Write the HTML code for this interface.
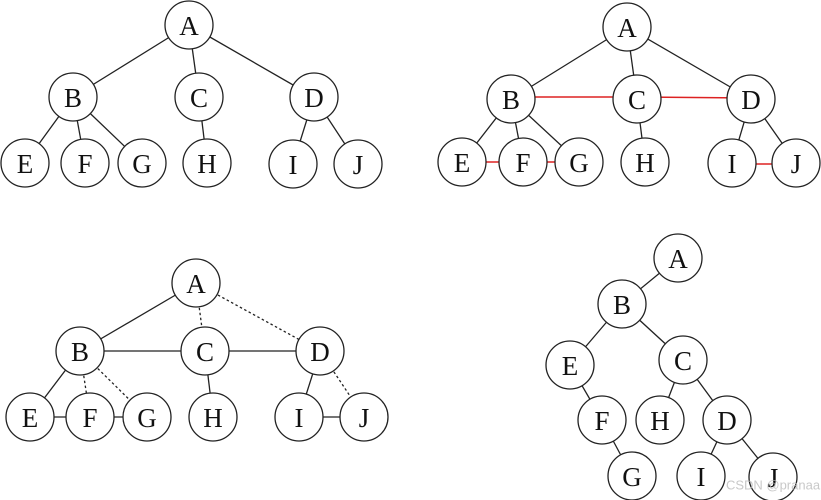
<!DOCTYPE html>
<html><head><meta charset="utf-8"><style>
html,body{margin:0;padding:0;background:#fff;}
svg{display:block}
text{font-family:"Liberation Serif",serif;font-size:27px;fill:#111;text-anchor:middle;dominant-baseline:central}
circle{fill:#fff;stroke:#222;stroke-width:1.3}
line{stroke:#222;stroke-width:1.3}
.r{stroke:#d22;stroke-width:1.5}
.d{stroke-dasharray:2.5 2.5}
</style></head><body>
<svg width="821" height="500" viewBox="0 0 821 500">
<!-- Tree 1 -->
<g>
<line x1="189" y1="25" x2="73" y2="97"/><line x1="189" y1="25" x2="199" y2="97"/><line x1="189" y1="25" x2="314" y2="97"/>
<line x1="73" y1="97" x2="25" y2="163"/><line x1="73" y1="97" x2="85" y2="163"/><line x1="73" y1="97" x2="142" y2="163"/>
<line x1="199" y1="97" x2="207" y2="163"/><line x1="314" y1="97" x2="293" y2="164"/><line x1="314" y1="97" x2="358" y2="164"/>
<circle cx="189" cy="25" r="24"/><text x="189" y="26">A</text>
<circle cx="73" cy="97" r="24"/><text x="73" y="98">B</text>
<circle cx="199" cy="97" r="24"/><text x="199" y="98">C</text>
<circle cx="314" cy="97" r="24"/><text x="314" y="98">D</text>
<circle cx="25" cy="163" r="24"/><text x="25" y="164">E</text>
<circle cx="85" cy="163" r="24"/><text x="85" y="164">F</text>
<circle cx="142" cy="163" r="24"/><text x="142" y="164">G</text>
<circle cx="207" cy="163" r="24"/><text x="207" y="164">H</text>
<circle cx="293" cy="164" r="24"/><text x="293" y="165">I</text>
<circle cx="358" cy="164" r="24"/><text x="358" y="165">J</text>
</g>
<!-- Tree 2 -->
<g>
<line x1="627" y1="27" x2="511" y2="99"/><line x1="627" y1="27" x2="637" y2="99"/><line x1="627" y1="27" x2="751" y2="99"/>
<line x1="511" y1="99" x2="462" y2="162"/><line x1="511" y1="99" x2="523" y2="162"/><line x1="511" y1="99" x2="579" y2="162"/>
<line x1="637" y1="99" x2="645" y2="162"/><line x1="751" y1="99" x2="732" y2="163"/><line x1="751" y1="99" x2="796" y2="163"/>
<line class="r" x1="511" y1="97" x2="637" y2="97"/><line class="r" x1="637" y1="97" x2="751" y2="98"/>
<line class="r" x1="462" y1="162" x2="523" y2="162"/><line class="r" x1="523" y1="162" x2="579" y2="162"/><line class="r" x1="732" y1="164" x2="796" y2="164"/>
<circle cx="627" cy="27" r="24"/><text x="627" y="28">A</text>
<circle cx="511" cy="99" r="24"/><text x="511" y="100">B</text>
<circle cx="637" cy="99" r="24"/><text x="637" y="100">C</text>
<circle cx="751" cy="99" r="24"/><text x="751" y="100">D</text>
<circle cx="462" cy="162" r="24"/><text x="462" y="163">E</text>
<circle cx="523" cy="162" r="24"/><text x="523" y="163">F</text>
<circle cx="579" cy="162" r="24"/><text x="579" y="163">G</text>
<circle cx="645" cy="162" r="24"/><text x="645" y="163">H</text>
<circle cx="732" cy="163" r="24"/><text x="732" y="164">I</text>
<circle cx="796" cy="163" r="24"/><text x="796" y="164">J</text>
</g>
<!-- Tree 3 -->
<g>
<line x1="196" y1="283" x2="80" y2="351"/><line class="d" x1="196" y1="283" x2="205" y2="351"/><line class="d" x1="196" y1="283" x2="320" y2="351"/>
<line x1="80" y1="351" x2="30" y2="417"/><line class="d" x1="80" y1="351" x2="90" y2="417"/><line class="d" x1="80" y1="351" x2="147" y2="417"/>
<line x1="205" y1="351" x2="213" y2="417"/><line x1="320" y1="351" x2="299" y2="417"/><line class="d" x1="320" y1="351" x2="364" y2="417"/>
<line x1="80" y1="351" x2="320" y2="351"/>
<line x1="30" y1="417" x2="147" y2="417"/><line x1="299" y1="417" x2="364" y2="417"/>
<circle cx="196" cy="283" r="24"/><text x="196" y="284">A</text>
<circle cx="80" cy="351" r="24"/><text x="80" y="352">B</text>
<circle cx="205" cy="351" r="24"/><text x="205" y="352">C</text>
<circle cx="320" cy="351" r="24"/><text x="320" y="352">D</text>
<circle cx="30" cy="417" r="24"/><text x="30" y="418">E</text>
<circle cx="90" cy="417" r="24"/><text x="90" y="418">F</text>
<circle cx="147" cy="417" r="24"/><text x="147" y="418">G</text>
<circle cx="213" cy="417" r="24"/><text x="213" y="418">H</text>
<circle cx="299" cy="417" r="24"/><text x="299" y="418">I</text>
<circle cx="364" cy="417" r="24"/><text x="364" y="418">J</text>
</g>
<!-- Tree 4 -->
<g>
<line x1="678" y1="258" x2="622" y2="304"/>
<line x1="622" y1="304" x2="570" y2="365"/><line x1="622" y1="304" x2="683" y2="360"/>
<line x1="570" y1="365" x2="602" y2="420"/><line x1="602" y1="420" x2="632" y2="476"/>
<line x1="683" y1="360" x2="660" y2="420"/><line x1="683" y1="360" x2="727" y2="420"/>
<line x1="727" y1="420" x2="701" y2="476"/><line x1="727" y1="420" x2="773" y2="477"/>
<circle cx="678" cy="258" r="24"/><text x="678" y="259">A</text>
<circle cx="622" cy="304" r="24"/><text x="622" y="305">B</text>
<circle cx="570" cy="365" r="24"/><text x="570" y="366">E</text>
<circle cx="683" cy="360" r="24"/><text x="683" y="361">C</text>
<circle cx="602" cy="420" r="24"/><text x="602" y="421">F</text>
<circle cx="660" cy="420" r="24"/><text x="660" y="421">H</text>
<circle cx="727" cy="420" r="24"/><text x="727" y="421">D</text>
<circle cx="632" cy="476" r="24"/><text x="632" y="477">G</text>
<circle cx="701" cy="476" r="24"/><text x="701" y="477">I</text>
<circle cx="773" cy="477" r="24"/><text x="773" y="478">J</text>
<text x="773" y="485" style="font-family:'Liberation Sans',sans-serif;font-size:13px;fill:#bbb;opacity:0.8">CSDN @pranaa</text>
</g>
</svg>
</body></html>
